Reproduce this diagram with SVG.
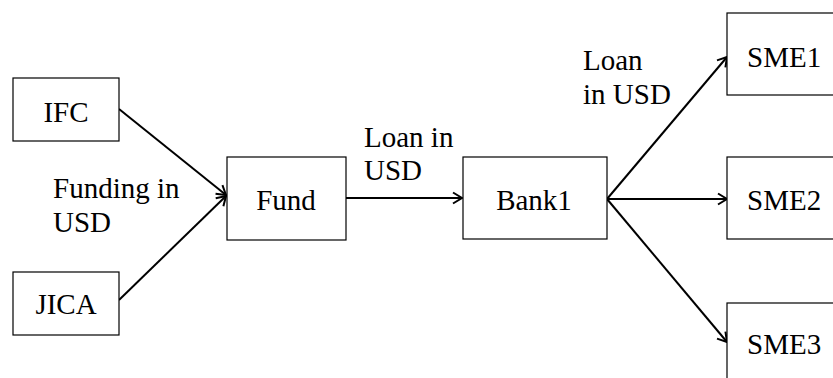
<svg xmlns="http://www.w3.org/2000/svg" width="833" height="378" viewBox="0 0 833 378">
<style>
.box{fill:#fff;stroke:#000;stroke-width:1.2}
.t{font-family:"Liberation Serif","Times New Roman",serif;font-size:29px;fill:#000}
.c{text-anchor:middle}
.e{stroke:#000;stroke-width:2;fill:none;marker-end:url(#ah)}
</style>
<defs>
<marker id="ah" markerUnits="userSpaceOnUse" markerWidth="14" markerHeight="14" refX="11" refY="7" orient="auto">
<path d="M2,1.5 L11,7 L2,12.5" fill="none" stroke="#000" stroke-width="2"/>
</marker>
</defs>
<rect width="833" height="378" fill="#fff"/>
<g id="connectors">
<line class="e" x1="119" y1="109" x2="226" y2="195"/>
<line class="e" x1="119" y1="300" x2="226" y2="196"/>
<line class="e" x1="346" y1="198" x2="462" y2="198"/>
<line class="e" x1="607" y1="199" x2="727" y2="57"/>
<line class="e" x1="607" y1="199" x2="727" y2="199"/>
<line class="e" x1="607" y1="199" x2="727" y2="342"/>
</g>
<g id="IFC"><rect class="box" x="13" y="78" width="106" height="63"/><text class="t c" x="66" y="122">IFC</text></g>
<g id="JICA"><rect class="box" x="13" y="272" width="106" height="63"/><text class="t c" x="66" y="314">JICA</text></g>
<g id="Fund"><rect class="box" x="227" y="157" width="119" height="83"/><text class="t c" x="286" y="210">Fund</text></g>
<g id="Bank1"><rect class="box" x="463" y="157" width="144" height="82"/><text class="t c" x="534" y="210">Bank1</text></g>
<g id="SME1"><rect class="box" x="727" y="13" width="120" height="82"/><text class="t" x="747" y="67">SME1</text></g>
<g id="SME2"><rect class="box" x="727" y="157" width="120" height="82"/><text class="t" x="747" y="210">SME2</text></g>
<g id="SME3"><rect class="box" x="727" y="303" width="120" height="90"/><text class="t" x="747" y="354">SME3</text></g>
<g id="labels">
<text class="t" x="53" y="198">Funding in</text>
<text class="t" x="53" y="232">USD</text>
<text class="t" x="364" y="147">Loan in</text>
<text class="t" x="364" y="180">USD</text>
<text class="t" x="583" y="70">Loan</text>
<text class="t" x="583" y="104">in USD</text>
</g>
</svg>
